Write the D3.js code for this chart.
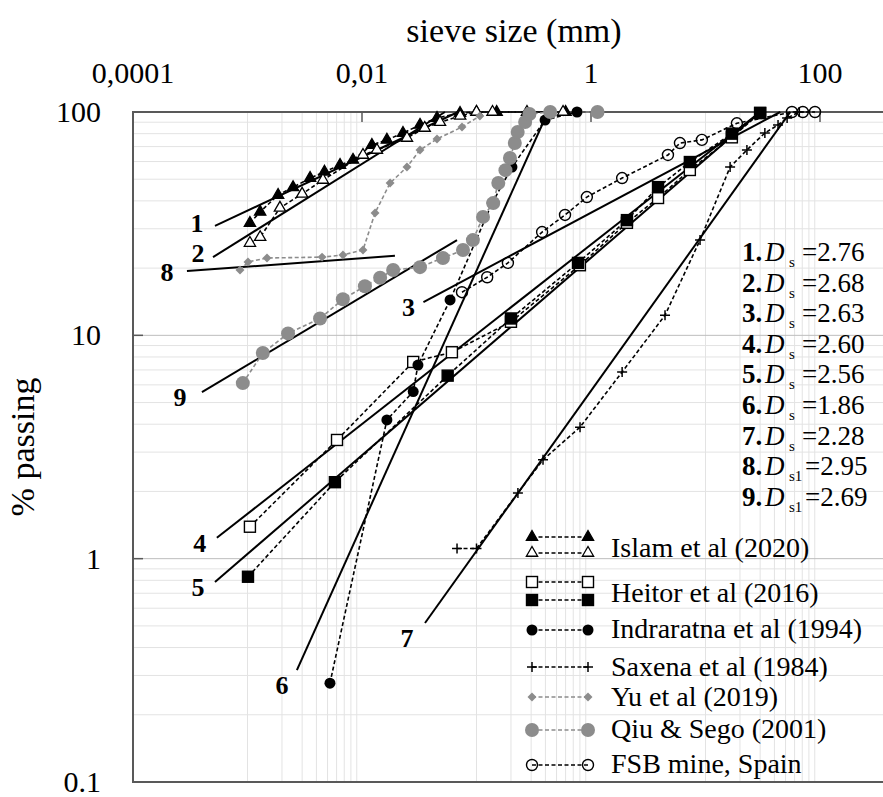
<!DOCTYPE html>
<html>
<head>
<meta charset="utf-8">
<script src="https://cdn.jsdelivr.net/npm/d3@7"></script>
<style>
  body { margin: 0; background: #fff; }
  svg { display: block; font-family: "Liberation Serif", "Times New Roman", serif; }
</style>
</head>
<body>
<div id="chart"></div>
<script>
const islamFilled = [[0.00105,31.8],[0.00129,35.7],[0.00185,42.5],[0.0025,46],[0.00352,50.6],[0.0047,54],[0.00643,57.9],[0.00834,61],[0.0122,71.1],[0.0165,75],[0.0228,80.5],[0.0321,87.5],[0.0452,94],[0.0718,99],[0.1,100],[0.15,100],[0.6,100]];
const islamOpen = [[0.00105,25.9],[0.00129,27.5],[0.00192,37.2],[0.003,43],[0.00456,49.6],[0.0102,64.2],[0.0135,67.6],[0.0247,76.5],[0.0353,84.8],[0.048,90],[0.072,96],[0.1,100],[0.138,100],[0.276,100],[0.57,100]];
const heitorOpen = [[0.00105,1.39],[0.00605,3.4],[0.028,7.6],[0.061,8.4],[0.2,11.5],[0.8,20.6],[2.06,31.9],[3.85,41.2],[7.3,55],[17,77],[30,99]];
const heitorFilled = [[0.00101,0.83],[0.0058,2.2],[0.056,6.6],[0.2,11.9],[0.77,21.1],[2.06,32.8],[3.85,46.1],[7.3,59.7],[17,80],[30,99]];
const indraratna = [[0.00525,0.277],[0.0165,4.18],[0.028,5.6],[0.0308,7.36],[0.0588,14.4],[0.137,39.1],[0.204,56.7],[0.397,92],[0.755,100]];
const saxena = [[0.0676,1.11],[0.1,1.11],[0.23,1.97],[0.381,2.77],[0.802,3.88],[1.87,6.85],[4.43,12.3],[8.96,26.7],[16.4,56.7],[23,67.6],[33,80.5],[43,87.5],[51.6,94],[66,100]];
const yu = [[0.00086,19.6],[0.00101,21.3],[0.00148,22.2],[0.00448,22.4],[0.00682,22.9],[0.0102,24.1],[0.013,35.3],[0.0176,48.1],[0.0247,56.7],[0.0321,67.6],[0.0452,75.7],[0.0747,85.7],[0.107,96]];
const qiu = [[0.00091,6.11],[0.00136,8.33],[0.00226,10.2],[0.0043,11.9],[0.0068,14.5],[0.0106,16.6],[0.0144,18.1],[0.0187,19.6],[0.0321,20.2],[0.0509,22.2],[0.0762,24.1],[0.093,26.7],[0.114,33.9],[0.14,39.1],[0.155,48.1],[0.179,54.9],[0.196,62.2],[0.216,72.6],[0.229,81.4],[0.266,90.2],[0.29,98],[0.44,100],[1.14,100]];
const fsb = [[0.0747,15.6],[0.124,18.2],[0.188,21.1],[0.374,29],[0.593,34.6],[0.92,41.6],[1.87,50.6],[4.7,64.2],[5.98,72.6],[9.3,75],[18.8,89],[56.9,100],[70.8,100],[90.4,100]];

// fitted lines (start and end points)
const fitIds = ["1","2","3","4","5","6","7","8","9"];
const fitLines = [
  [[0.00052,30.9],[0.069,100]],
  [[0.0005,22.4],[0.053,100]],
  [[0.0344,14.1],[45,100]],
  [[0.00054,1.24],[30,100]],
  [[0.00052,0.786],[30,100]],
  [[0.0027,0.317],[0.42,100]],
  [[0.0355,0.515],[55,100]],
  [[0.000296,19.4],[0.0194,22.7]],
  [[0.0004,5.57],[0.0676,26.7]]
];

// fractal dimensions
const dNums = ["1.","2.","3.","4.","5.","6.","7.","8.","9."];
const dSubs = ["s","s","s","s","s","s","s","s1","s1"];
const dVals = ["2.76","2.68","2.63","2.60","2.56","1.86","2.28","2.95","2.69"];

const xTicks = [0.0001, 0.01, 1, 100];
const xTickLabels = ["0,0001", "0,01", "1", "100"];
const yTicks = [0.1, 1, 10, 100];
const yTickLabels = ["0.1", "1", "10", "100"];

const legendNames = ["Islam et al (2020)", "Heitor et al (2016)", "Indraratna et al (1994)", "Saxena et al (1984)", "Yu et al (2019)", "Qiu & Sego (2001)", "FSB mine, Spain"];

//------Séries
const series = [
  {data: islamFilled, mk: "triF", col: "#000"},
  {data: islamOpen, mk: "triO", col: "#000"},
  {data: heitorOpen, mk: "sqO", col: "#000"},
  {data: heitorFilled, mk: "sqF", col: "#000"},
  {data: indraratna, mk: "cirF", col: "#000"},
  {data: saxena, mk: "plus", col: "#000"},
  {data: yu, mk: "dia", col: "#8c8c8c"},
  {data: qiu, mk: "cirG", col: "#8c8c8c"},
  {data: fsb, mk: "cirO", col: "#000"}
];

const svg = d3.select("#chart").append("svg")
  .attr("width", 883).attr("height", 797);

const x = d3.scaleLog().domain([1e-4, 1e3]).range([133, 934.5]);
const y = d3.scaleLog().domain([0.1, 100]).range([782, 112]);

//------Grille
const grid = svg.append("g");
const vMinor = [];
[0.0001, 0.01, 1, 100].forEach(M => { for (let m = 1; m <= 9; m++) vMinor.push(M * 10 * m); });
grid.selectAll(".vm").data(vMinor.filter(v => v < 1000)).enter().append("line")
  .attr("x1", d => x(d)).attr("x2", d => x(d)).attr("y1", 112).attr("y2", 782)
  .attr("stroke", d => [0.01, 1, 100].includes(+d.toPrecision(3)) ? "#bdbdbd" : "#e3e3e3")
  .attr("stroke-width", 1);
const hMinor = [];
[0.1, 1, 10].forEach(M => { for (let m = 2; m <= 9; m++) hMinor.push(M * m); });
grid.selectAll(".hm").data(hMinor).enter().append("line")
  .attr("x1", 133).attr("x2", 934).attr("y1", d => y(d)).attr("y2", d => y(d))
  .attr("stroke", "#e3e3e3");
grid.selectAll(".hM").data([1, 10]).enter().append("line")
  .attr("x1", 133).attr("x2", 934).attr("y1", d => y(d)).attr("y2", d => y(d))
  .attr("stroke", "#bdbdbd");

//------Cadre et ticks
svg.append("rect").attr("x", 133).attr("y", 112).attr("width", 801.5).attr("height", 670)
  .attr("fill", "none").attr("stroke", "#595959").attr("stroke-width", 2);
svg.append("g").selectAll("line").data(xTicks.slice(1)).enter().append("line")
  .attr("x1", d => x(d)).attr("x2", d => x(d)).attr("y1", 112).attr("y2", 122)
  .attr("stroke", "#595959").attr("stroke-width", 1.5);
svg.append("g").selectAll("line").data([1, 10]).enter().append("line")
  .attr("x1", 133).attr("x2", 143).attr("y1", d => y(d)).attr("y2", d => y(d))
  .attr("stroke", "#595959").attr("stroke-width", 1.5);

//------Labels des axes
svg.append("g").selectAll("text").data(xTicks).enter().append("text")
  .attr("x", d => x(d)).attr("y", 83)
  .attr("text-anchor", "middle").style("font-size", "30px")
  .text((d, i) => xTickLabels[i]);
svg.append("g").selectAll("text").data(yTicks).enter().append("text")
  .attr("x", 101).attr("y", d => y(d) + 10)
  .attr("text-anchor", "end").style("font-size", "30px")
  .text((d, i) => yTickLabels[i]);
svg.append("text").attr("x", 514).attr("y", 42).attr("text-anchor", "middle")
  .style("font-size", "34px").text("sieve size (mm)");
svg.append("text").attr("transform", "translate(34,447) rotate(-90)").attr("text-anchor", "middle")
  .style("font-size", "34px").text("% passing");

//------Droites d'ajustement
const labOff = [[-18,-3],[-15,-4],[-15,5],[-17,5],[-17,5],[-15,15],[-18,15],[-20,1],[-22,5]];
const fits = svg.append("g");
fitLines.forEach((p, i) => {
  fits.append("line")
    .attr("x1", x(p[0][0])).attr("y1", y(p[0][1]))
    .attr("x2", x(p[1][0])).attr("y2", y(p[1][1]))
    .attr("stroke", "#000").attr("stroke-width", 2);
  fits.append("text")
    .attr("x", x(p[0][0]) + labOff[i][0]).attr("y", y(p[0][1]) + labOff[i][1] + 9)
    .attr("text-anchor", "middle").style("font-size", "26px").style("font-weight", "bold")
    .text(fitIds[i]);
});

//------Marqueurs
function marker(g, type, px, py) {
  const sym = d3.symbol();
  if (type === "triF" || type === "triO") {
    g.append("path").attr("d", sym.type(d3.symbolTriangle).size(55)())
      .attr("transform", `translate(${px},${py})`)
      .attr("fill", type === "triF" ? "#000" : "#fff").attr("stroke", "#000").attr("stroke-width", 1.3);
  } else if (type === "sqO" || type === "sqF") {
    g.append("rect").attr("x", px - 5.5).attr("y", py - 5.5).attr("width", 11).attr("height", 11)
      .attr("fill", type === "sqF" ? "#000" : "#fff").attr("stroke", "#000").attr("stroke-width", 1.4);
  } else if (type === "cirF") {
    g.append("circle").attr("cx", px).attr("cy", py).attr("r", 5.5).attr("fill", "#000");
  } else if (type === "cirG") {
    g.append("circle").attr("cx", px).attr("cy", py).attr("r", 7).attr("fill", "#8c8c8c");
  } else if (type === "cirO") {
    g.append("circle").attr("cx", px).attr("cy", py).attr("r", 5.5)
      .attr("fill", "none").attr("stroke", "#000").attr("stroke-width", 1.4);
  } else if (type === "dia") {
    g.append("path").attr("d", sym.type(d3.symbolSquare).size(40)())
      .attr("transform", `translate(${px},${py}) rotate(45)`).attr("fill", "#8c8c8c");
  } else if (type === "plus") {
    g.append("path").attr("d", `M${px-5},${py}H${px+5}M${px},${py-5}V${py+5}`)
      .attr("stroke", "#000").attr("stroke-width", 1.5);
  }
}

const line = d3.line().x(d => x(d[0])).y(d => y(d[1]));
const dataG = svg.append("g");
series.forEach(s => {
  dataG.append("path").datum(s.data).attr("d", line)
    .attr("fill", "none").attr("stroke", s.col).attr("stroke-width", 1.6)
    .attr("stroke-dasharray", "4,2.5");
});
series.forEach(s => {
  const g = dataG.append("g");
  s.data.forEach(d => marker(g, s.mk, x(d[0]), y(d[1])));
});

//------Liste des Ds
const dl = svg.append("g").style("font-size", "27px");
dNums.forEach((n, i) => {
  const by = 261 + i * 30.6;
  dl.append("text").attr("x", 742).attr("y", by).style("font-weight", "bold").text(n);
  dl.append("text").attr("x", 765).attr("y", by).style("font-style", "italic").text("D");
  dl.append("text").attr("x", 789).attr("y", by + 6).style("font-size", "15px").text(dSubs[i]);
  dl.append("text").attr("x", dSubs[i] === "s1" ? 805 : 802).attr("y", by).text("=" + dVals[i]);
});

//------Légende
const legRows = [
  {mk: ["triF", "triO"], col: "#000", ys: [537, 553], ty: 557},
  {mk: ["sqO", "sqF"], col: "#000", ys: [582, 600], ty: 602},
  {mk: ["cirF"], col: "#000", ys: [630], ty: 638},
  {mk: ["plus"], col: "#000", ys: [667], ty: 676},
  {mk: ["dia"], col: "#8c8c8c", ys: [697], ty: 706},
  {mk: ["cirG"], col: "#8c8c8c", ys: [730], ty: 738},
  {mk: ["cirO"], col: "#000", ys: [765], ty: 773}
];
const leg = svg.append("g");
legRows.forEach((r, i) => {
  r.mk.forEach((m, j) => {
    leg.append("line").attr("x1", 532).attr("x2", 588).attr("y1", r.ys[j]).attr("y2", r.ys[j])
      .attr("stroke", r.col).attr("stroke-width", 1.6).attr("stroke-dasharray", "4,2.5");
    const g = leg.append("g");
    marker(g, m, 532, r.ys[j]);
    marker(g, m, 588, r.ys[j]);
  });
  leg.append("text").attr("x", 611).attr("y", r.ty).style("font-size", "28px").text(legendNames[i]);
});
</script>
</body>
</html>
